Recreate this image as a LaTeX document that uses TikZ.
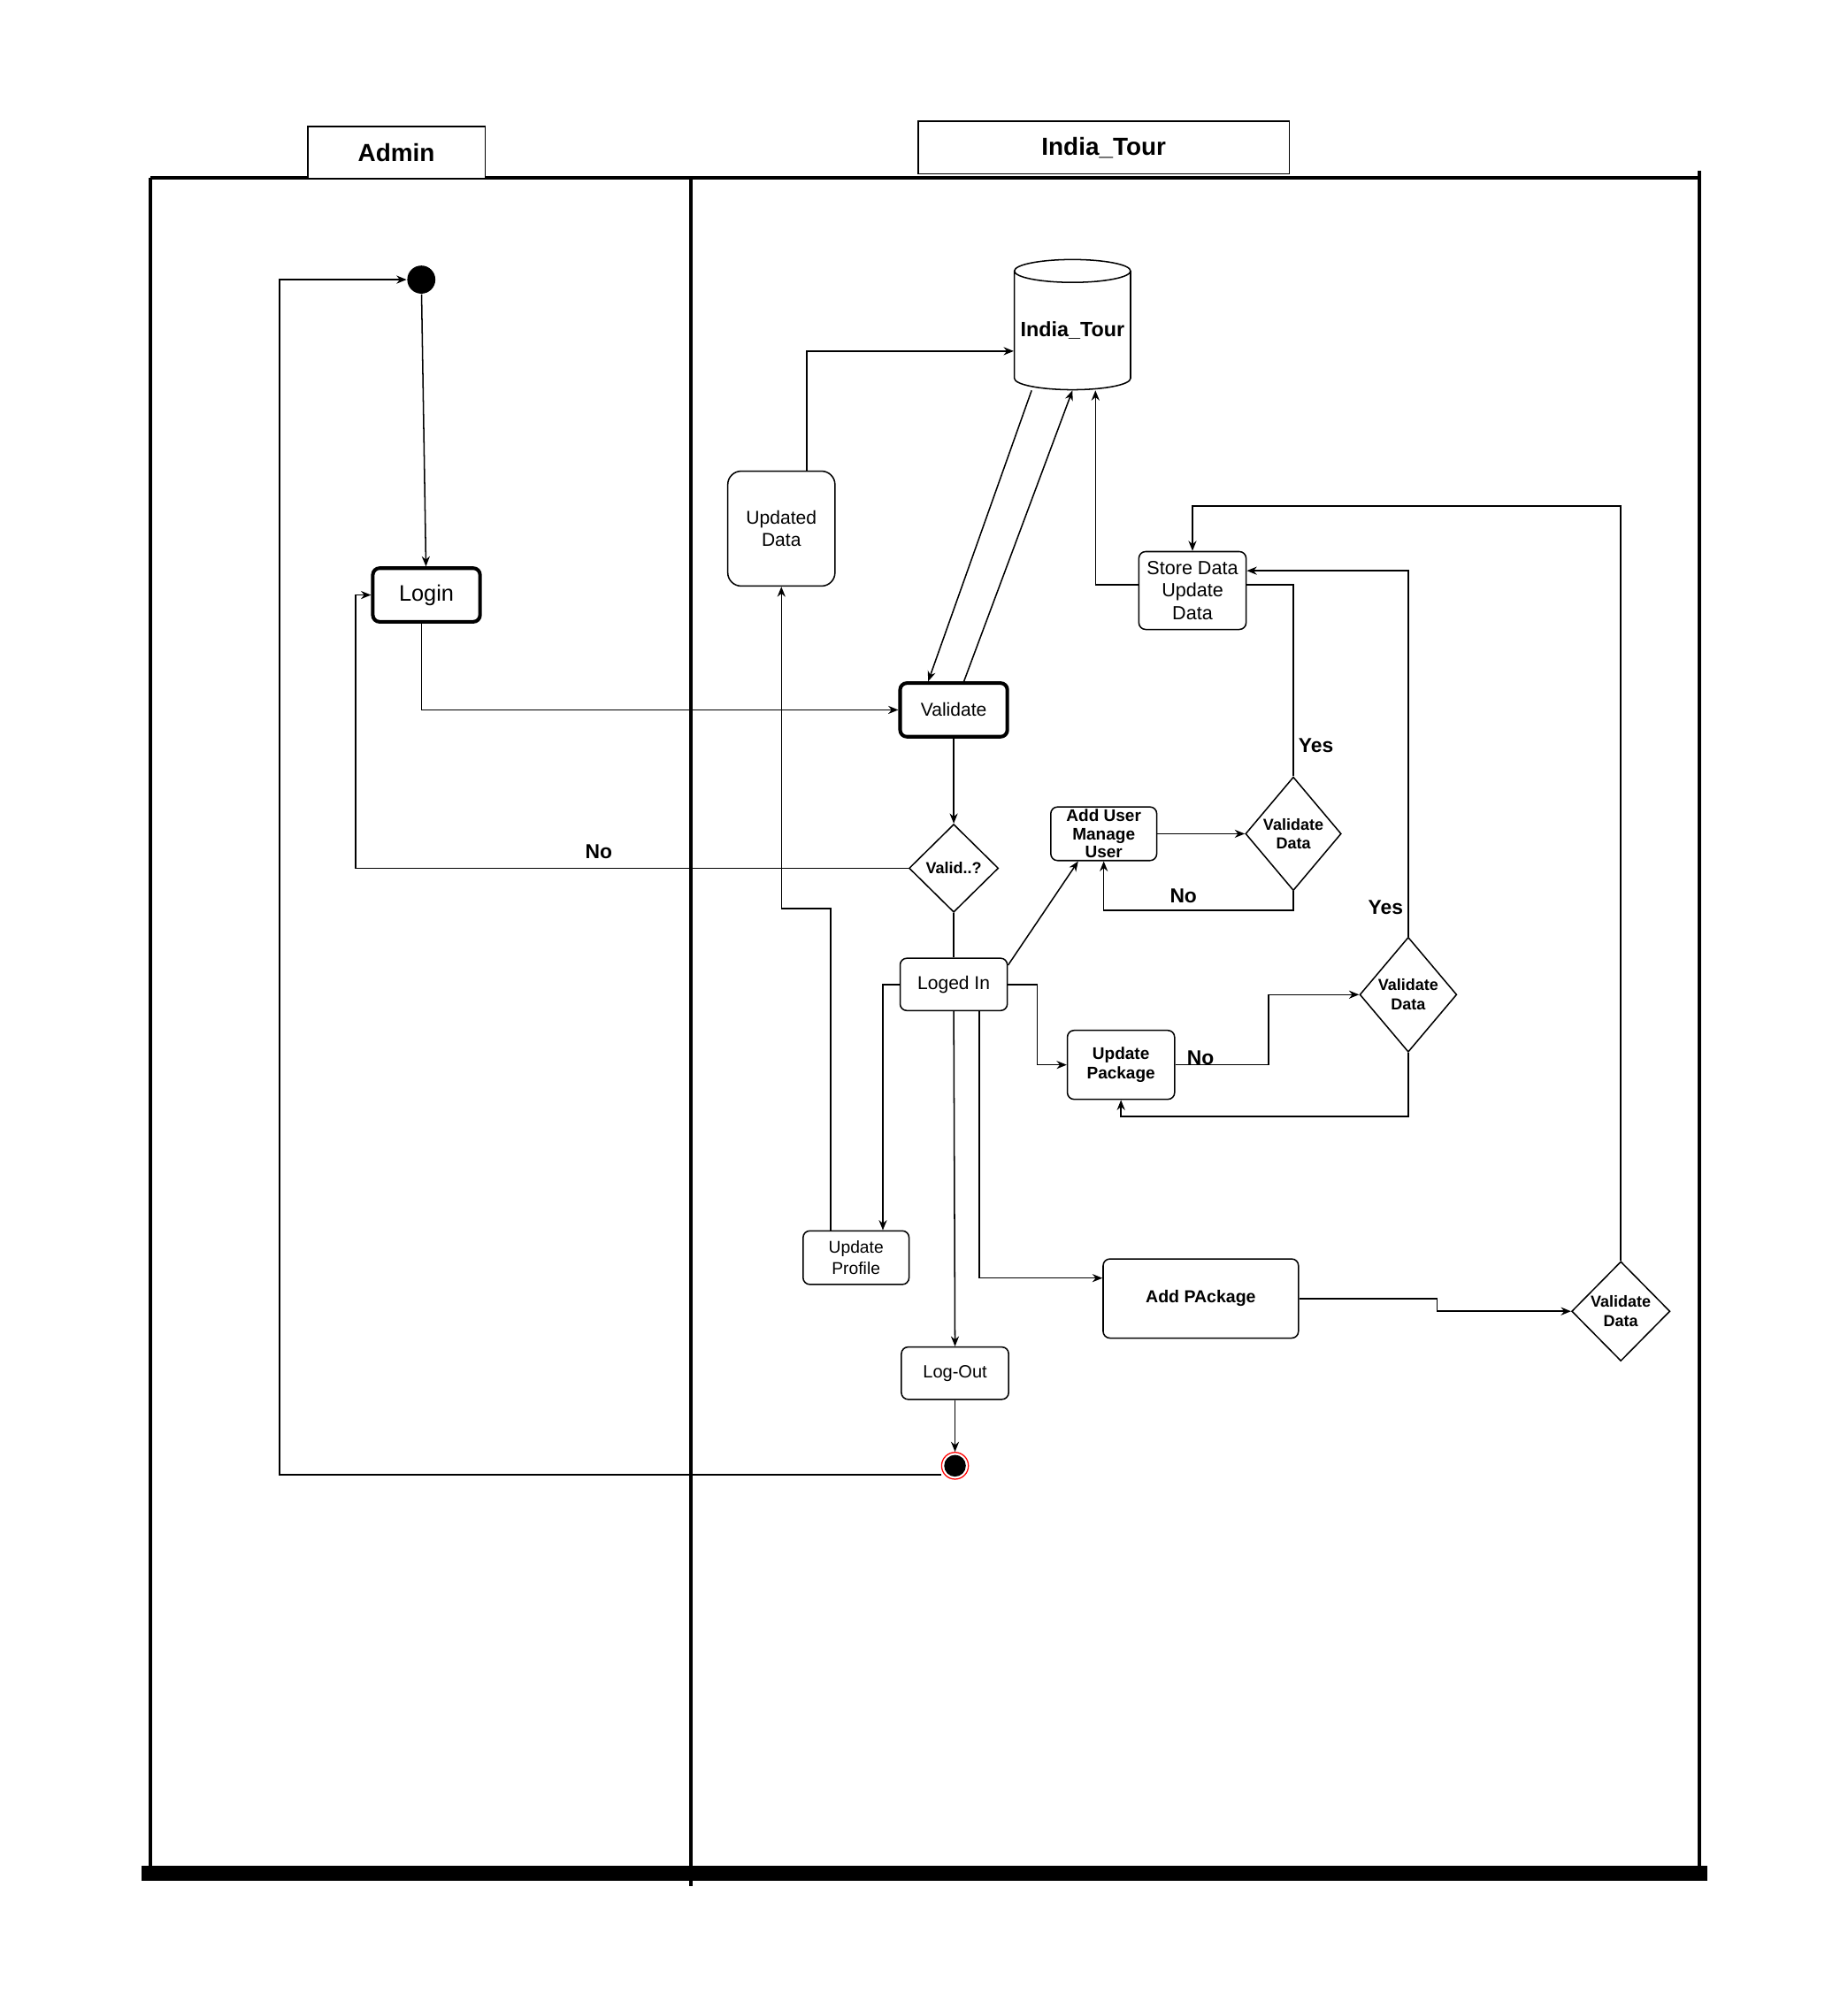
\documentclass[tikz,border=0pt]{standalone}
\usepackage{fontspec}
\setmainfont{Liberation Sans}
\usepackage{tikz}
\usetikzlibrary{shapes.geometric, positioning, arrows.meta}

\begin{document}
\begin{tikzpicture}[x=0.02cm, y=-0.02cm, line width=0.6pt,
    >={Stealth[length=4.5pt, width=3.6pt]},
    act/.style={draw, rounded corners=3pt, align=center, inner sep=0pt,
        font=\fontsize{8.3}{10}\selectfont, minimum width=1.68cm, minimum height=0.84cm},
    key/.style={act, line width=1.6pt},
    dec/.style={diamond, draw, align=center, inner sep=0pt,
        font=\bfseries\fontsize{7.1}{8.5}\selectfont},
    lbl/.style={font=\bfseries\fontsize{9}{10}\selectfont, inner sep=1pt},
    lane/.style={draw, fill=white, font=\bfseries\fontsize{11}{13}\selectfont},
    wall/.style={line width=1.6pt}]
    \useasboundingbox (0,0) rectangle (1447,1568);

    % swimlanes
    \draw[wall] (118,139) -- (1331,139);
    \draw[wall] (118,139) -- (118,1461);
    \draw[wall] (541,139) -- (541,1477);
    \draw[wall] (1331,134) -- (1331,1461);
    \fill (111,1461) rectangle (1337,1473);
    \node[lane, minimum width=2.78cm, minimum height=0.82cm] (adminhead) at (310.5,119.5) {Admin};
    \node[lane, minimum width=5.82cm, minimum height=0.82cm] (tourhead) at (864.5,115.5) {India\_Tour};

    % admin side
    \node[circle, fill=black, minimum size=0.44cm, inner sep=0pt] (start) at (330,219) {};
    \node[key, font=\fontsize{10}{12}\selectfont] (login) at (334,466) {Login};

    % system side
    \node[cylinder, shape border rotate=90, draw, aspect=0.22, inner sep=0pt,
        minimum width=1.82cm, minimum height=2.04cm,
        font=\bfseries\fontsize{9.2}{11}\selectfont] (db) at (840,259) {\raisebox{-0.12cm}{India\_Tour}};
    \node[act, rounded corners=6pt, minimum height=1.8cm] (updated) at (612,414) {Updated\\Data};
    \node[key] (validate) at (747,556) {Validate};
    \node[dec, minimum width=1.4cm, minimum height=1.38cm] (valid) at (747,680) {Valid..?};
    \node[act, minimum height=0.82cm] (logedin) at (747,771) {Loged In};
    \node[act, minimum height=1.22cm, font=\fontsize{8.5}{10.2}\selectfont] (store) at (934,462.5) {Store Data\\Update\\Data};
    \node[act, minimum width=1.66cm, font=\bfseries\fontsize{7.5}{8}\selectfont] (adduser) at (864.5,653) {Add User\\Manage\\User};
    \node[dec, minimum width=1.5cm, minimum height=1.78cm] (vd1) at (1013,653) {Validate\\Data};
    \node[dec, minimum width=1.52cm, minimum height=1.8cm] (vd2) at (1103,779) {Validate\\Data};
    \node[act, minimum height=1.08cm, font=\bfseries\fontsize{7.5}{8.5}\selectfont] (updpkg) at (878,834) {Update\\Package};
    \node[act, minimum width=1.66cm, font=\fontsize{7.6}{9.6}\selectfont] (updprof) at (670.5,985) {Update\\Profile};
    \node[act, minimum height=0.82cm, font=\fontsize{7.9}{9.5}\selectfont] (logout) at (748,1075.5) {Log-Out};
    \node[act, minimum width=3.06cm, minimum height=1.24cm, font=\bfseries\fontsize{7.7}{9}\selectfont] (addpkg) at (940.5,1017) {Add PAckage};
    \node[dec, minimum width=1.54cm, minimum height=1.56cm] (vd3) at (1269.5,1027) {Validate\\Data};
    \node[circle, draw=red, line width=0.5pt, minimum size=0.42cm, inner sep=0pt,
        path picture={\fill (path picture bounding box.center) circle (0.17cm);}] (end) at (748,1148) {};

    % flows
    \draw[->] (start) -- (login);
    \draw[->] ([xshift=-0.08cm]login.south) |- (validate.west);
    \draw[->] ([xshift=-0.64cm]db.south) -- ([xshift=-0.4cm]validate.north);
    \draw[->] ([xshift=0.16cm]validate.north) -- (db.south);
    \draw[->] (validate) -- (valid);
    \draw[->] (valid.west) -- node[lbl, pos=0.56, above=3pt] {No} ++(-433,0) |- (login.west);
    \draw (valid) -- (logedin);
    \draw[->] (logedin.west) -| ([xshift=0.42cm]updprof.north);
    \draw[->] ([xshift=-0.4cm]updprof.north) -- ++(0,-252) -| (updated.south);
    \draw[->] ([xshift=0.4cm]updated.north) |- ([yshift=-0.32cm]db.west);
    \draw[->] ([yshift=-0.12cm]logedin.north east) -- ([xshift=-0.4cm]adduser.south);
    \draw[->] (adduser) -- (vd1);
    \draw[->] (vd1.south) -- ++(0,15) -| node[lbl, pos=0.29, above=2pt] {No} (adduser.south);
    \draw (vd1.north) |- node[lbl, pos=0.08, right=1pt] {Yes} ([yshift=0.09cm]store.east);
    \draw[->] ([yshift=0.09cm]store.west) -| ([xshift=0.36cm]db.south);
    \draw[->] (logedin.east) -- ++(23,0) |- (updpkg.west);
    \draw[->] (updpkg.east) -- node[lbl, pos=0.27, anchor=base] {No} ++(73,0) |- (vd2.west);
    \draw[->] (vd2.south) -- ++(0,50) -| (updpkg.south);
    \draw[->] (vd2.north) |- node[lbl, pos=0.04, left=1pt] {Yes} ([yshift=0.31cm]store.east);
    \draw[->] ([xshift=0.4cm]logedin.south) |- ([yshift=0.32cm]addpkg.west);
    \draw[->] (addpkg.east) -- ++(108,0) |- (vd3.west);
    \draw[->] (vd3.north) |- ([yshift=0.7cm]store.north) -- (store.north);
    \draw[->] (logedin.south) -- (logout.north);
    \draw[->] (logout) -- (end);
    \draw[->] ([yshift=-0.14cm]end.west) -- ++(-518,0) |- (start.west);
\end{tikzpicture}
\end{document}
